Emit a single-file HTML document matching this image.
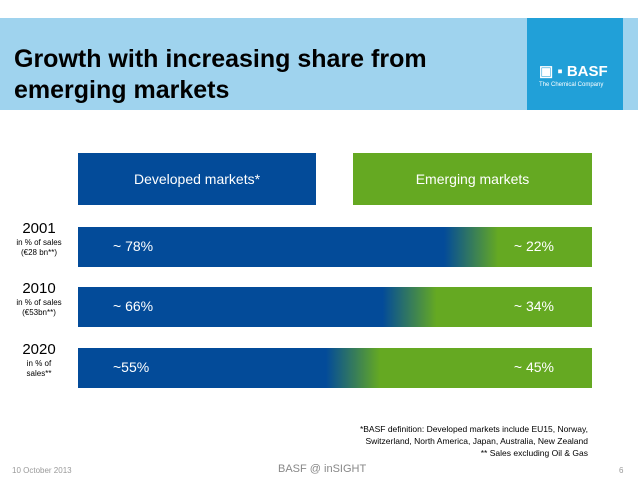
<!DOCTYPE html>
<html><head><meta charset="utf-8"><style>
body{margin:0;width:638px;height:479px;overflow:hidden;background:#fff;font-family:"Liberation Sans",sans-serif;position:relative}
.a{position:absolute}
</style></head><body>
<div class="a" style="left:0;top:18px;width:638px;height:92px;background:#9fd3ee"></div>
<div class="a" style="left:14px;top:44px;font-size:25px;font-weight:bold;line-height:31px;color:#000">Growth with increasing share from<br>emerging markets</div>
<div class="a" style="left:527px;top:18px;width:96px;height:92px;background:#21a0d8;color:#fff">
<div class="a" style="left:12px;top:44px;font-size:15px;font-weight:bold">▣ ▪ BASF</div>
<div class="a" style="left:12px;top:64px;font-size:6px">The Chemical Company</div></div>
<div class="a" style="left:78px;top:153px;width:238px;height:52px;background:#034b99;color:#fff;font-size:14px;line-height:52px;text-align:center">Developed markets*</div>
<div class="a" style="left:353px;top:153px;width:239px;height:52px;background:#65a922;color:#fff;font-size:14px;line-height:52px;text-align:center">Emerging markets</div>
<div id="bars"></div>
<div class="a" style="right:50px;top:423px;font-size:8.5px;line-height:12px;text-align:right;color:#000">*BASF definition: Developed markets include EU15, Norway,<br>Switzerland, North America, Japan, Australia, New Zealand<br>** Sales excluding Oil &amp; Gas</div>
<div class="a" style="left:12px;top:466px;font-size:8px;color:#999">10 October 2013</div>
<div class="a" style="left:278px;top:463px;font-size:11px;color:#888">BASF @ inSIGHT</div>
<div class="a" style="left:619px;top:466px;font-size:8px;color:#999">6</div>
<script>
const years=["2001","2010","2020"];
const subLabels=["in % of sales<br>(€28 bn**)","in % of sales<br>(€53bn**)","in % of<br>sales**"];
const developed=[78,66,55];
const devLabels=["~ 78%","~ 66%","~55%"];
const emgLabels=["~ 22%","~ 34%","~ 45%"];
const root=document.getElementById('bars');
const x0=78,w=514,tops=[227,287,348],h=40;
years.forEach((y,i)=>{
 const c=developed[i]-1.5,bw=27/w*100;
 const b=document.createElement('div');b.className='a';
 
 
 b.style.cssText=`left:${x0}px;top:${tops[i]}px;width:${w}px;height:${h}px;background:linear-gradient(90deg,#034b99 0%,#034b99 ${c-bw}%,#65a922 ${c+bw}%,#65a922 100%)`;
 b.innerHTML=`<div class="a" style="left:35px;top:11px;color:#fff;font-size:14px">${devLabels[i]}</div><div class="a" style="right:38px;top:11px;color:#fff;font-size:14px">${emgLabels[i]}</div>`;
 root.appendChild(b);
 const l=document.createElement('div');l.className='a';
 
 
 l.style.cssText=`left:0;width:78px;top:${tops[i]-7}px;text-align:center;line-height:10px`;
 l.innerHTML=`<div style="font-size:15px;line-height:18px">${y}</div><div style="font-size:8px">${subLabels[i]}</div>`;
 root.appendChild(l);
});
</script>
</body></html>
